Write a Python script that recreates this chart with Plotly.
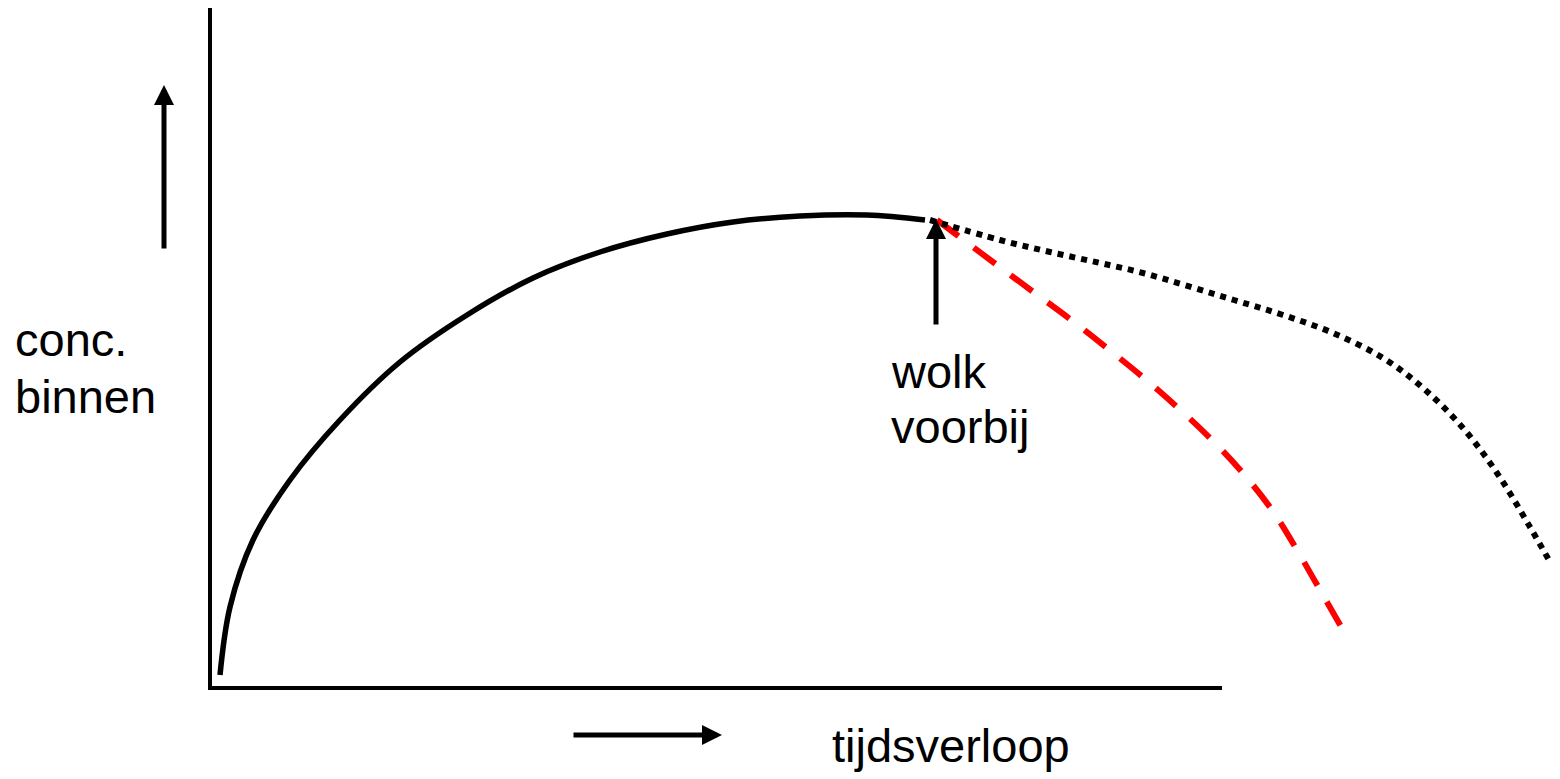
import plotly.graph_objects as go

# Schematic data (time units, concentration units)
inside_t = [0.10, 0.20, 0.43, 0.80, 1.30, 1.90, 2.57, 3.23, 3.90, 4.57, 5.23, 5.90, 6.57, 7.15]
inside_c = [0.13, 0.81, 1.48, 2.08, 2.68, 3.26, 3.73, 4.10, 4.36, 4.54, 4.66, 4.72, 4.73, 4.68]

vent_t = [7.27, 7.47, 7.83, 8.22, 8.60, 8.97, 9.48, 10.00, 10.32, 10.62, 10.87, 11.10, 11.33]
vent_c = [4.68, 4.53, 4.26, 3.97, 3.69, 3.40, 2.98, 2.50, 2.16, 1.78, 1.38, 0.98, 0.58]

closed_t = [7.20, 7.90, 8.40, 8.90, 9.33, 10.24, 10.73, 11.23, 11.73, 12.13, 12.53, 12.87, 13.20, 13.40]
closed_c = [4.68, 4.48, 4.36, 4.25, 4.15, 3.88, 3.73, 3.55, 3.30, 3.00, 2.60, 2.15, 1.61, 1.26]

axis_x_end = 10.12
axis_y_end = 6.80

y_label_lines = ["conc.", "binnen"]
event_label_lines = ["wolk", "voorbij"]
x_label = "tijdsverloop"

FONT = "Liberation Sans, Arial, sans-serif"
FS = 47

fig = go.Figure()

# axes
fig.add_trace(go.Scatter(x=[0, 0, axis_x_end], y=[axis_y_end, 0, 0], mode="lines",
                         line=dict(color="black", width=4), hoverinfo="skip"))

fig.add_trace(go.Scatter(x=inside_t, y=inside_c, mode="lines", line_shape="spline",
                         line=dict(color="black", width=5.5), hoverinfo="skip"))
fig.add_trace(go.Scatter(x=vent_t, y=vent_c, mode="lines", line_shape="spline",
                         line=dict(color="#ff0000", width=6, dash="27px,19px"), hoverinfo="skip"))
fig.add_trace(go.Scatter(x=closed_t, y=closed_c, mode="lines", line_shape="spline",
                         line=dict(color="black", width=6, dash="6px,6px"), hoverinfo="skip"))

arrows = [
    # (tip x, tip y, tail x, tail y)
    (-0.46, 6.03, -0.46, 4.38),
    (5.12, -0.47, 3.62, -0.47),
    (7.26, 4.69, 7.26, 3.62),
]
for tx, ty, sx, sy in arrows:
    fig.add_annotation(x=tx, y=ty, ax=sx, ay=sy, xref="x", yref="y", axref="x", ayref="y",
                       text="", showarrow=True, arrowhead=2, arrowsize=0.8, arrowwidth=5,
                       arrowcolor="black")

def label(x, y, txt):
    fig.add_annotation(x=x, y=y, xref="x", yref="y", text=txt, showarrow=False,
                       xanchor="left", yanchor="middle", align="left",
                       font=dict(family=FONT, size=FS, color="black"))

label(-1.97, 3.485, y_label_lines[0])
label(-1.97, 2.915, y_label_lines[1])
label(6.79, 3.165, event_label_lines[0])
label(6.79, 2.615, event_label_lines[1])
label(6.20, -0.575, x_label)

fig.update_xaxes(range=[-2.02, 13.58], visible=False, fixedrange=True)
fig.update_yaxes(range=[-0.99, 6.80], visible=False, fixedrange=True)
fig.update_layout(width=1560, height=779, margin=dict(l=0, r=0, t=0, b=0),
                  plot_bgcolor="white", paper_bgcolor="white", showlegend=False)

fig.write_html("out.html")
